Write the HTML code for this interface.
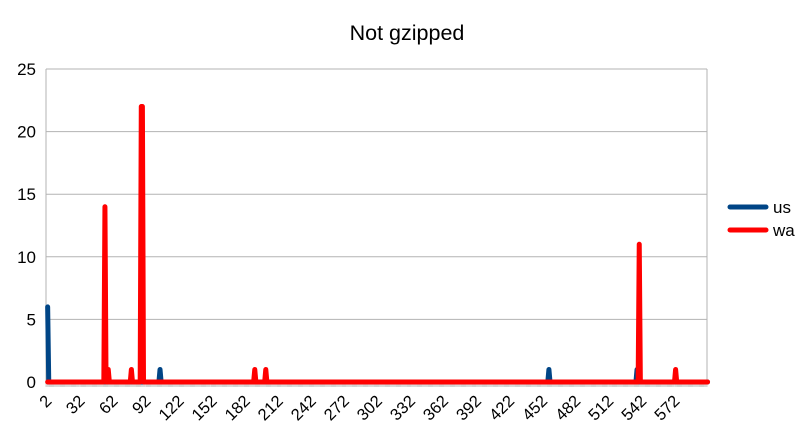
<!DOCTYPE html>
<html><head><meta charset="utf-8"><style>
body{margin:0;background:#fff;font-family:"Liberation Sans",sans-serif}
svg{display:block}
</style></head><body>
<svg id="c" width="808" height="437">
<text x="407" y="40" font-size="21.5" text-anchor="middle">Not gzipped</text>
<g id="grid"></g><g id="ticks"></g><g id="series"></g>
<g>
<line x1="730" y1="207" x2="766" y2="207" stroke="#004586" stroke-width="5" stroke-linecap="round"/>
<text x="773" y="213" font-size="17">us</text>
<line x1="730" y1="230" x2="766" y2="230" stroke="#ff0000" stroke-width="5" stroke-linecap="round"/>
<text x="773" y="236" font-size="17">wa</text>
</g>
</svg>
<script>
const firstCat = 2, nCats = 600;
const yTicks = [0,5,10,15,20,25];
const usCats = [2,104,457,537];
const usVals = [6,1,1,1];
const waCats = [54,57,78,87,88,190,200,539,572];
const waVals = [14,1,1,22,22,1,1,11,1];
const NS="http://www.w3.org/2000/svg";
const L=46,R=707,T=69,B=382;
const step=(R-L)/nCats;
const xs=c=>L+(c-firstCat+1.5)*step;
const ys=v=>B-(v/25)*(B-T);
function mk(t,a,p){const e=document.createElementNS(NS,t);for(const k in a)e.setAttribute(k,a[k]);p.appendChild(e);return e;}
const grid=document.getElementById('grid');
yTicks.forEach(v=>{
 const l=mk('line',{x1:L,x2:R,y1:ys(v),y2:ys(v),stroke:'#b3b3b3','stroke-width':1},grid);
 
 
 const t=mk('text',{x:36,y:ys(v)+6,'font-size':17,'text-anchor':'end'},grid);
 t.textContent=v;
 
 
});
const fr=mk('line',{x1:R,x2:R,y1:T,y2:B,stroke:'#b3b3b3'},grid);


const fl=mk('line',{x1:L,x2:L,y1:T,y2:B,stroke:'#b3b3b3'},grid);


const tk=document.getElementById('ticks');
let d='';
for(let i=0;i<=nCats;i++){const x=(L+i*step).toFixed(1);d+=`M${x} ${B}V${B+5}`;}
const tp=mk('path',{d:d,stroke:'#b3b3b3','stroke-width':0.6},tk);


for(let c=firstCat;c<firstCat+nCats;c+=30){
 const x=xs(c);
 const t=mk('text',{x:x+5,y:B+20,'font-size':16.5,'text-anchor':'end',transform:`rotate(-45 ${x+5} ${B+20})`},tk);
 t.textContent=c;
 
 
}
function series(cats,vals,color,name){
 const v=new Array(nCats).fill(0);
 cats.forEach((c,i)=>{v[c-firstCat]=vals[i];});
 let p='';
 v.forEach((val,i)=>{p+=(i?'L':'M')+xs(i+firstCat).toFixed(2)+' '+ys(val).toFixed(2);});
 const e=mk('path',{d:p,fill:'none',stroke:color,'stroke-width':5,'stroke-linejoin':'round','stroke-linecap':'round'},document.getElementById('series'));
 
 
}
series(usCats,usVals,'#004586','series-us');
series(waCats,waVals,'#ff0000','series-wa');
</script>
</body></html>
